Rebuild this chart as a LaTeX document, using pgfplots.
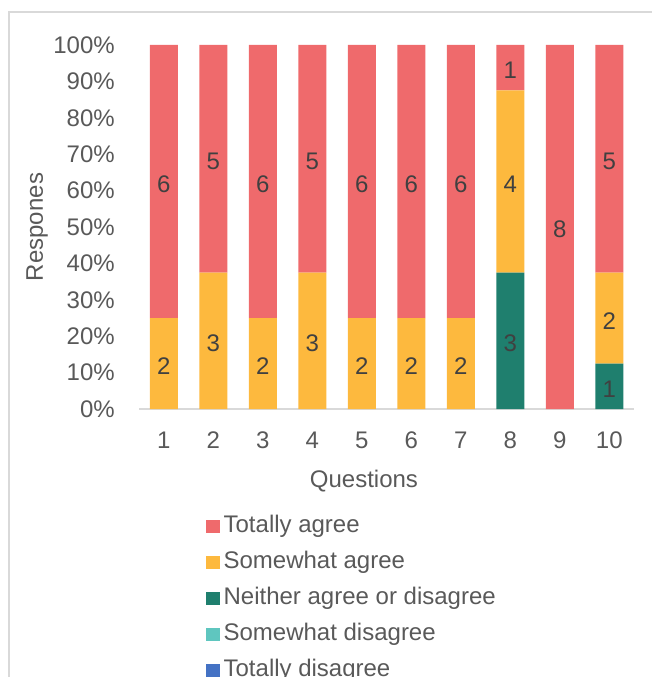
\documentclass[border=0pt]{standalone}
\usepackage{pgfplots}
\pgfplotsset{compat=1.18}
\usepackage{pgfplotstable}
\usepackage{fontspec}
\setmainfont{Liberation Sans}
\definecolor{cRed}{HTML}{EF6A6C}
\definecolor{cYel}{HTML}{FDB93E}
\definecolor{cGrn}{HTML}{1F7F6E}
\definecolor{cTeal}{HTML}{5FC6BF}
\definecolor{cBlue}{HTML}{4472C4}
\definecolor{cTxt}{HTML}{595959}
\definecolor{cLab}{HTML}{404040}
\definecolor{cLine}{HTML}{D9D9D9}
\pgfplotstableread{
q ta sa na sd td
1 6 2 0 0 0
2 5 3 0 0 0
3 6 2 0 0 0
4 5 3 0 0 0
5 6 2 0 0 0
6 6 2 0 0 0
7 6 2 0 0 0
8 1 4 3 0 0
9 8 0 0 0 0
10 5 2 1 0 0
}\data
\begin{document}
\begin{tikzpicture}
\begin{axis}[
  at={(0,0)}, anchor=south west,
  scale only axis, width=371.25pt, height=273pt,
  ybar stacked, bar width=21pt,
  xmin=0.5, xmax=10.5, ymin=0, ymax=8,
  xtick={1,...,10}, xticklabels={1,2,3,4,5,6,7,8,9,10},
  ytick={0,0.8,1.6,2.4,3.2,4,4.8,5.6,6.4,7.2,8},
  yticklabels={0\%,10\%,20\%,30\%,40\%,50\%,60\%,70\%,80\%,90\%,100\%},
  /pgf/number format/assume math mode=true,
  axis x line*=bottom, axis y line*=left,
  x axis line style={draw=cLine, line width=1.5pt},
  y axis line style={draw=none},
  major tick length=0pt,
  tick style={draw=none},
  tick label style={font=\fontsize{18}{21}\selectfont, text=cTxt},
  yticklabel style={inner sep=0pt, xshift=-18pt},
  xticklabel style={inner sep=0pt, yshift=-17pt},
  xlabel={Questions}, ylabel={Respones},
  every axis x label/.style={at={(axis description cs:0.4545,0)}, yshift=-54pt, anchor=center, font=\fontsize{18}{21}\selectfont, text=cTxt},
  every axis y label/.style={at={(axis description cs:0,0.5)}, xshift=-76.5pt, rotate=90, anchor=center, font=\fontsize{18}{21}\selectfont, text=cTxt},
  point meta=explicit symbolic,
  nodes near coords={\ifnum\pgfplotspointmeta>0 \pgfplotspointmeta\fi},
  every node near coord/.append style={anchor=center, yshift=-2pt, font=\fontsize{18}{21}\selectfont, text=cLab},
  reverse legend,
  legend cell align=left,
  legend style={at={(0.1273,-0.283)}, anchor=north west, draw=none, fill=none,
    font=\fontsize{18}{21}\selectfont, text=cTxt, row sep=10pt,
    nodes={inner xsep=3pt, inner ysep=0pt, text height=13pt, text depth=4pt}},
  legend image code/.code={\path[#1, draw=none] (0pt,-5pt) rectangle (10pt,5pt);},
]
\addplot[fill=cBlue, draw=none] table[x=q,y=td,meta=td] {\data};
\addplot[fill=cTeal, draw=none] table[x=q,y=sd,meta=sd] {\data};
\addplot[fill=cGrn, draw=none] table[x=q,y=na,meta=na] {\data};
\addplot[fill=cYel, draw=none] table[x=q,y=sa,meta=sa] {\data};
\addplot[fill=cRed, draw=none] table[x=q,y=ta,meta=ta] {\data};
\legend{Totally disagree,Somewhat disagree,Neither agree or disagree,Somewhat agree,Totally agree}
\end{axis}
\draw[cLine, line width=1.5pt] (-97.5pt,-205pt) -- (-97.5pt,297.75pt) -- (390pt,297.75pt);
\pgfresetboundingbox
\useasboundingbox (-104.25pt,-201pt) rectangle (384pt,306.75pt);
\end{tikzpicture}
\end{document}
